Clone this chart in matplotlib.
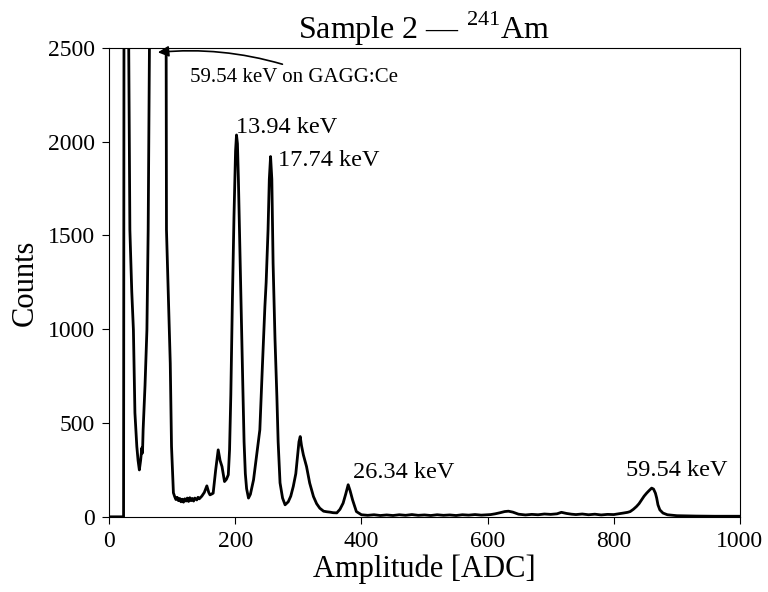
import matplotlib
matplotlib.use("Agg")
import matplotlib.pyplot as plt

plt.rcParams['font.family'] = ['Liberation Serif', 'DejaVu Serif']
plt.rcParams['mathtext.fontset'] = 'custom'
plt.rcParams['mathtext.rm'] = 'Liberation Serif'

# spectrum: (amplitude [ADC], counts); >2500 is off-scale
low_region = [(0, 0), (23, 0), (24, 4000), (27, 4500), (31, 2600), (33, 1530), (36, 1200),
              (38.6, 997), (41, 554), (44, 375), (46, 300), (48, 250), (50, 300), (52, 368),
              (53, 340), (54, 464), (57, 700), (60, 997), (62, 1530), (64, 2500), (70, 4000),
              (80, 5000), (89, 3000), (90.5, 2500), (91, 1530), (94, 1174), (97, 819),
              (99, 375), (102, 128), (104, 108), (106, 92), (108, 104), (110, 86), (112, 98),
              (114, 80), (116, 94), (118, 78), (120, 96), (122, 84), (124, 100), (126, 82),
              (128, 102), (130, 86), (132, 98), (134, 84), (136, 100), (139, 90), (141, 104),
              (143, 96), (147, 110), (151, 130), (155, 165), (158, 130), (160, 117),
              (163, 122), (165, 126), (169, 250), (173, 357), (176, 300), (179, 268),
              (183, 188), (186, 200), (189, 224)]
xray_region = [(191, 357), (193, 650), (195.5, 1157), (198, 1600), (200.5, 1950), (202, 2036),
               (203.5, 1990), (205, 1800), (207, 1480), (209.5, 1100), (212, 700), (214, 400),
               (216, 230), (218, 150), (221, 100), (224, 120), (229, 197), (234, 330),
               (239, 464), (243, 800), (247, 1121), (249, 1250), (252, 1530), (254, 1800),
               (256, 1921), (258, 1800), (260, 1352), (263, 950), (266, 641), (268, 400),
               (271, 181), (275, 100), (279, 64), (284, 80), (288, 110), (292, 162),
               (296, 230), (299, 330), (301, 400), (303, 428), (305, 380), (308, 330),
               (313, 268), (318, 180), (324, 108), (329, 70), (334, 46), (340, 30), (345, 27),
               (350, 25), (355, 22), (361, 21), (366, 40), (371, 73), (375, 120), (379, 171),
               (382, 140), (386, 90), (392, 28), (400, 11)]
high_region = [(410, 8), (420, 11), (430, 7), (440, 10), (450, 7), (460, 11), (470, 8),
               (480, 12), (490, 8), (500, 10), (510, 7), (520, 11), (530, 8), (540, 10),
               (550, 7), (560, 11), (570, 9), (580, 12), (590, 9), (605, 12), (612, 16),
               (620, 22), (627, 28), (633, 30), (640, 25), (649, 14), (660, 10), (670, 13),
               (680, 11), (690, 15), (700, 13), (710, 16), (717, 24), (725, 18), (733, 14),
               (740, 12), (750, 15), (760, 11), (770, 14), (780, 10), (790, 13), (800, 12),
               (808, 16), (815, 20), (822, 24), (826, 28), (831, 40), (836, 55), (840, 70),
               (844, 90), (848, 110), (852, 126), (856, 140), (860, 153), (863, 148),
               (866, 126), (868, 100), (870, 64), (873, 37), (878, 20), (885, 11), (900, 6),
               (915, 5), (930, 4), (960, 3), (1000, 3)]

peak_labels = ["13.94 keV", "17.74 keV", "26.34 keV", "59.54 keV"]
label_x = [201, 268, 387, 820]
label_y = [2045, 1868, 208, 215]

spectrum = low_region + xray_region + high_region
amplitude = [p[0] for p in spectrum]
counts = [p[1] for p in spectrum]

fig = plt.figure(figsize=(7.68, 5.92), dpi=100)
ax = fig.add_axes([0.142, 0.127, 0.8215, 0.792])

ax.plot(amplitude, counts, color='black', lw=2.0)

for txt, x, y in zip(peak_labels, label_x, label_y):
    ax.text(x, y, txt, fontsize=17.5, ha='left', va='baseline')

# GAGG:Ce line pointer
ax.annotate('', xy=(73, 2475), xytext=(279, 2409),
            arrowprops=dict(arrowstyle='-|>', connectionstyle='arc3,rad=0.1',
                            color='black', lw=1.2, mutation_scale=16))
ax.text(129, 2345, "59.54 keV on GAGG:Ce", fontsize=15, ha='left', va='center')

ax.set_xlim(0, 1000)
ax.set_ylim(0, 2500)
ax.set_xticks([0, 200, 400, 600, 800, 1000])
ax.set_yticks([0, 500, 1000, 1500, 2000, 2500])
ax.tick_params(labelsize=17, direction='out', length=5, pad=5)

ax.set_xlabel("Amplitude [ADC]", fontsize=22, labelpad=2)
ax.set_ylabel("Counts", fontsize=22, labelpad=6)
ax.set_title("Sample 2 — $^{241}$Am", fontsize=23, pad=4)

fig.savefig("out.png", dpi=100)
